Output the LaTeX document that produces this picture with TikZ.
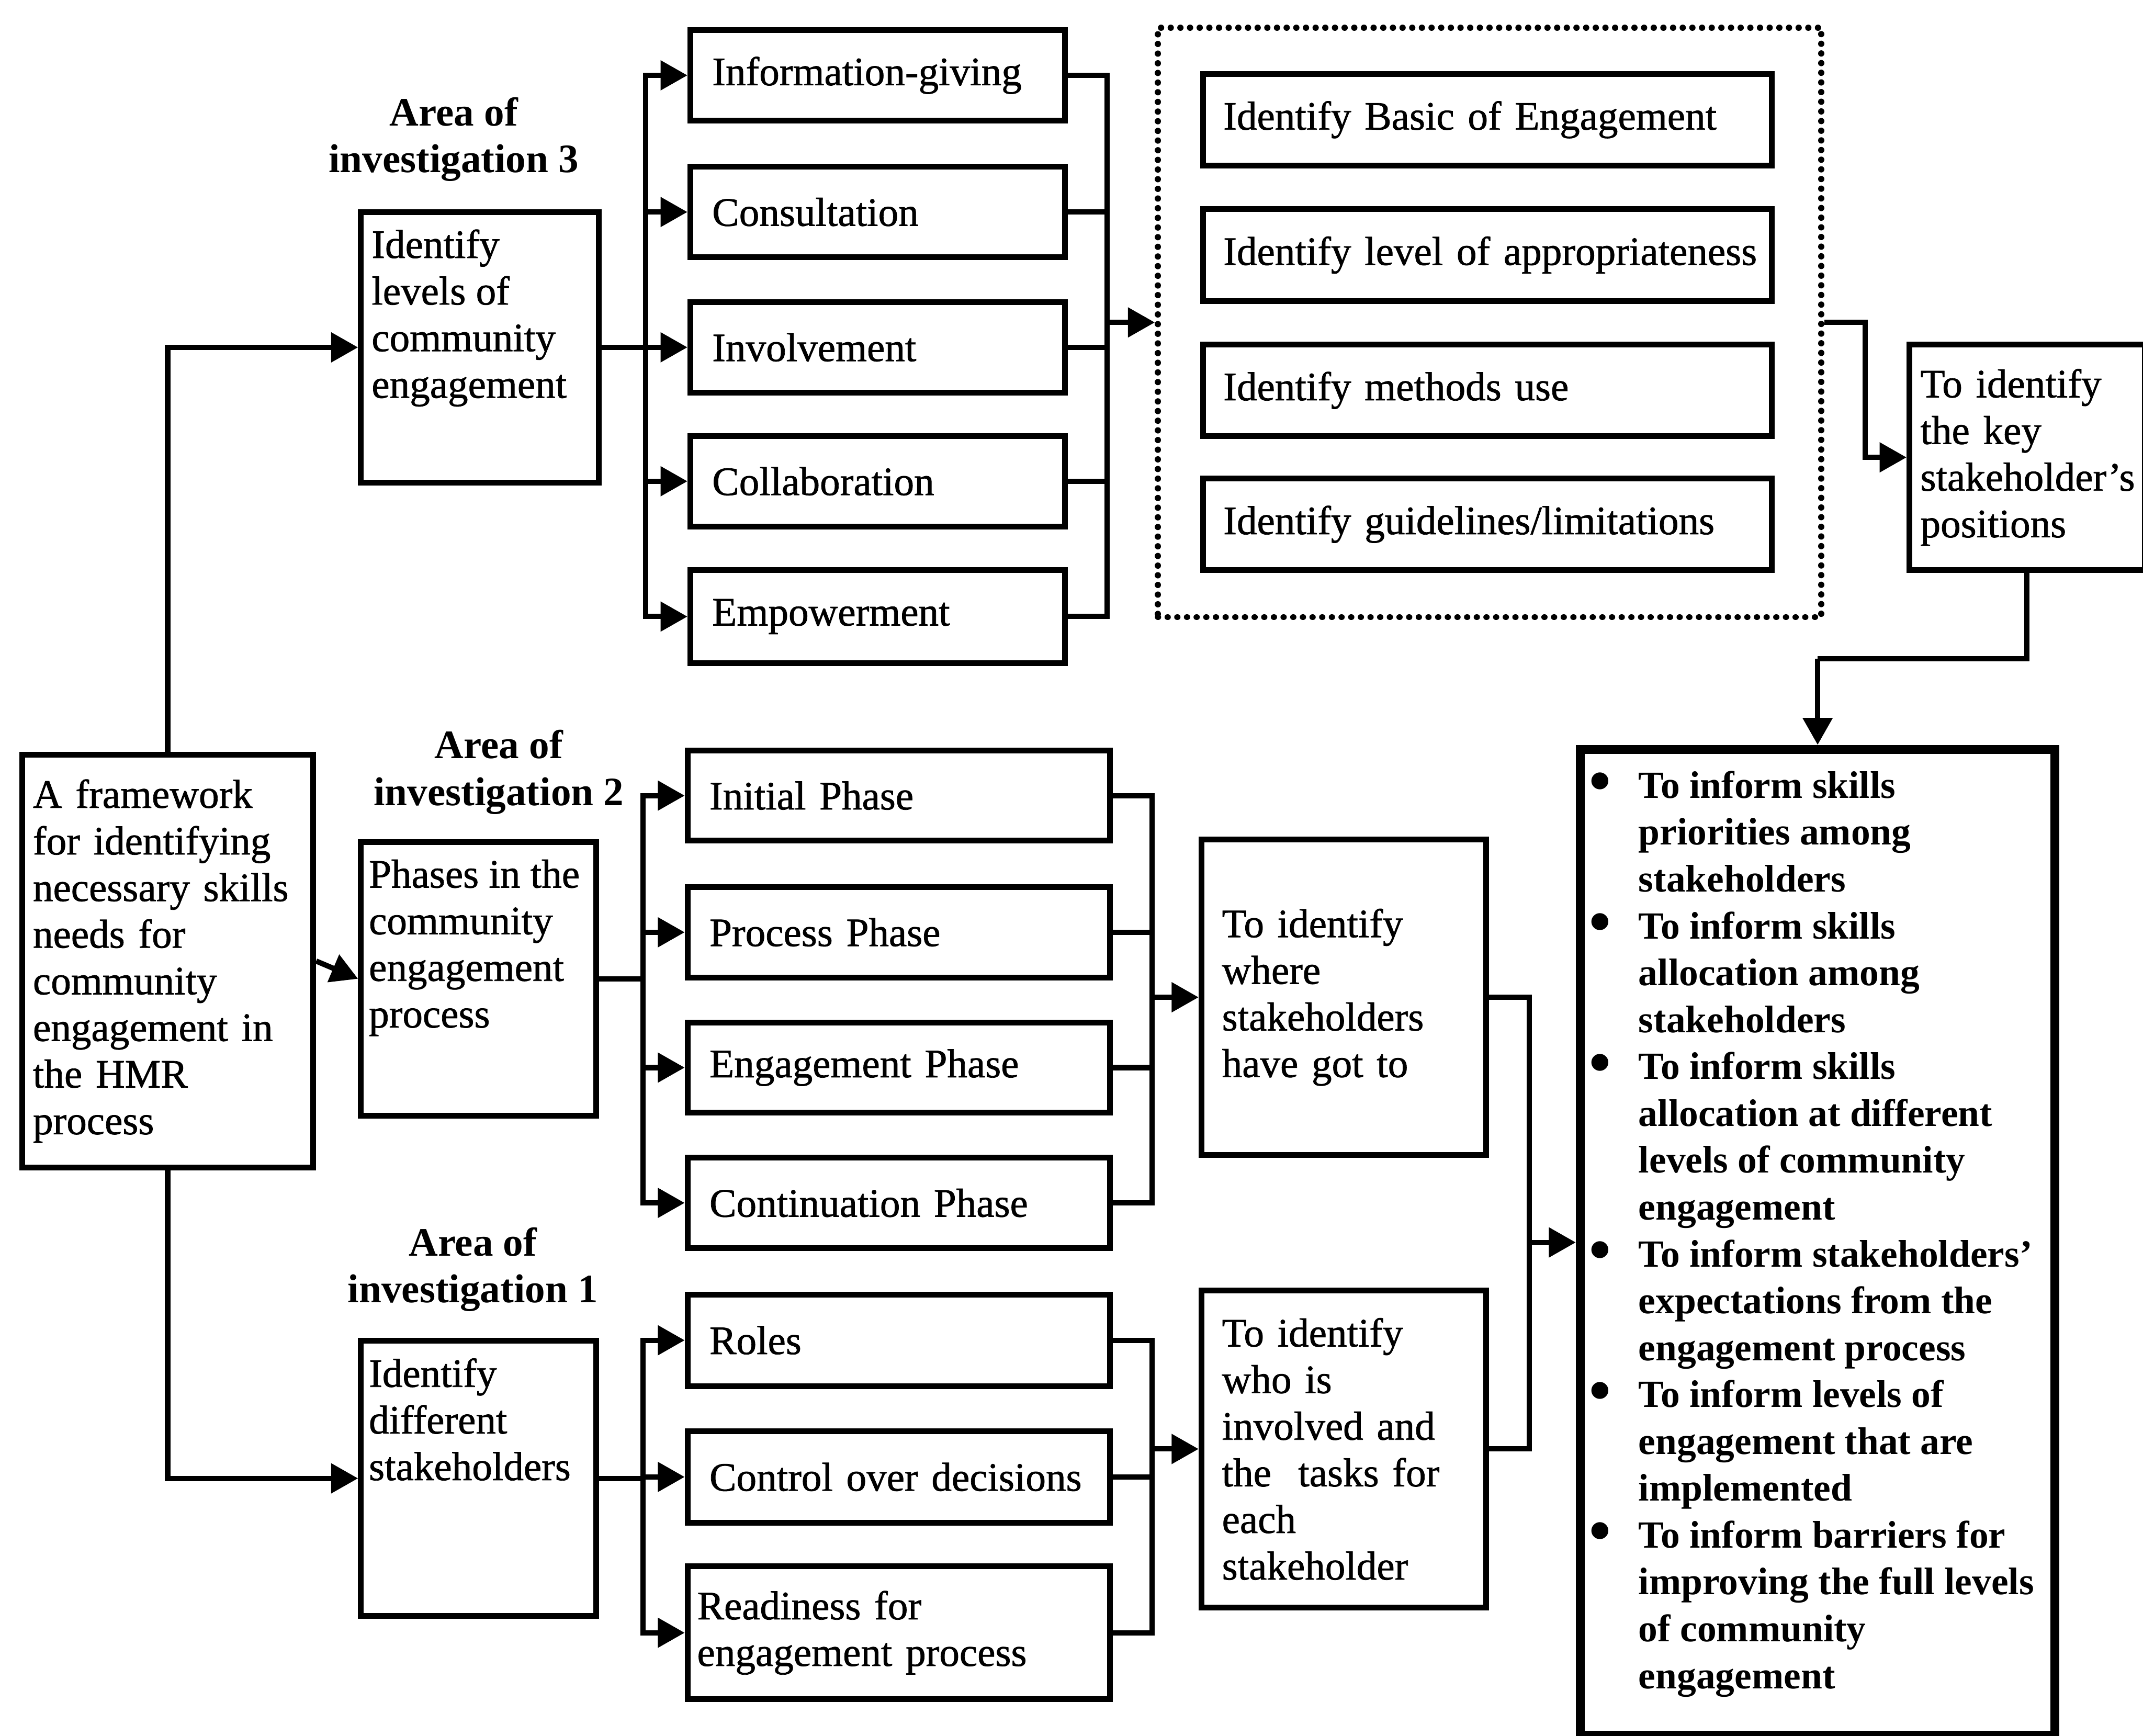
\documentclass[tikz,border=0pt]{standalone}
\usepackage{fontspec}
\setmainfont{Liberation Serif}[UprightFeatures={FakeBold=1}]
\usetikzlibrary{arrows.meta,calc}
\hyphenpenalty=10000
\exhyphenpenalty=10000
\newcommand{\regfont}{\fontsize{8.4pt}{9.7pt}\selectfont}
\newcommand{\bulfont}{\fontsize{8pt}{9.75pt}\selectfont\bfseries}
\newcommand{\bigbullet}{\raisebox{-0.8pt}{\fontsize{13pt}{0pt}\selectfont\textbullet}}

\begin{document}
\begin{tikzpicture}[x=0.01cm,y=-0.01cm,line width=1.1pt,
  every node/.style={font=\regfont},
  frame/.style={draw,line width=1.2pt,anchor=north west,inner sep=0pt,align=left},
  itemA/.style={frame,inner xsep=0.16cm,text width=2.42cm,minimum height=0.66cm},
  itemB/.style={frame,inner xsep=0.16cm,text width=2.77cm,minimum height=0.66cm},
  itemC/.style={frame,inner xsep=0.15cm,text width=3.86cm,minimum height=0.67cm},
  boxtext/.style={anchor=north west,inner sep=0pt,align=left},
  area/.style={align=center,inner sep=0pt,font=\regfont\bfseries},
  arr/.style={-{Triangle[length=5.6pt,width=6pt]}},
  line join=miter]

\useasboundingbox (0,0) rectangle (1568,1270);

% main framework box
\node[frame,inner xsep=0.08cm,text width=1.97cm,minimum height=3.02cm] (F) at (14,550)
  {A framework\\for identifying\\necessary skills\\needs for\\community\\engagement in\\the HMR\\process};

% areas of investigation
\node[area] (L3) at (332,102) {Area of\\investigation 3};
\node[area] (L2) at (365,565) {Area of\\investigation 2};
\node[area] (L1) at (346,929) {Area of\\investigation 1};

\node[frame,minimum width=1.74cm,minimum height=1.98cm] (B3) at (262,153) {};
\node[boxtext] (B3t) at (270,166) {Identify\\levels of\\community\\engagement};
\node[frame,minimum width=1.72cm,minimum height=2.00cm] (B2) at (262,614) {};
\node[boxtext] (B2t) at (268,627) {Phases in the\\community\\engagement\\process};
\node[frame,minimum width=1.72cm,minimum height=2.01cm] (B1) at (262,979) {};
\node[boxtext] (B1t) at (268,992) {Identify\\different\\stakeholders};

% levels of community engagement
\node[itemA] (I1) at (503,20)  {Information-giving};
\node[itemA] (I2) at (503,120) {Consultation};
\node[itemA] (I3) at (503,219) {Involvement};
\node[itemA] (I4) at (503,317) {Collaboration};
\node[itemA,minimum height=0.68cm] (I5) at (503,415) {Empowerment};

% dotted group
\node[frame,line width=1.3pt,line cap=round,dash pattern=on 0.01pt off 2pt,minimum width=4.85cm,minimum height=4.31cm] (D) at (845,18) {};
\node[itemC] (D1) at (878,52)  {\mbox{Identify Basic of Engagement}};
\node[itemC] (D2) at (878,151) {\mbox{Identify level of appropriateness}};
\node[itemC] (D3) at (878,250) {\mbox{Identify methods use}};
\node[itemC] (D4) at (878,348) {\mbox{Identify guidelines/limitations}};

\node[frame,inner xsep=0.08cm,text width=1.56cm,minimum height=1.65cm] (K) at (1395,250)
  {To identify\\the key\\stakeholder’s\\positions};

% phases
\node[itemB] (P1) at (501,547) {Initial Phase};
\node[itemB] (P2) at (501,647) {Process Phase};
\node[itemB] (P3) at (501,746) {Engagement Phase};
\node[itemB] (P4) at (501,845) {Continuation Phase};
\node[frame,inner xsep=0.15cm,text width=1.78cm,minimum height=2.31cm] (Wh) at (877,612)
  {To identify\\where\\stakeholders\\have got to};

% stakeholders
\node[itemB,minimum height=0.67cm] (S1) at (501,945)  {Roles};
\node[itemB,minimum height=0.67cm] (S2) at (501,1045) {Control over decisions};
\node[frame,inner xsep=0.07cm,text width=2.95cm,minimum height=0.97cm] (S3) at (501,1144)
  {Readiness for\\engagement process};
\node[frame,inner xsep=0.15cm,text width=1.78cm,minimum height=2.32cm] (Wo) at (877,942)
  {To identify\\who is\\involved and\\the\ \ tasks for\\each\\stakeholder};

% outcomes
\node[frame,line width=1.9pt,minimum width=3.47cm,minimum height=7.21cm] (R) at (1153,545) {};
\node[boxtext,font=\bulfont] (Rt) at (1161,558) {%
\begin{tabular}{@{}p{0.36cm}@{}l@{}}
\bigbullet & To inform skills\\
 & priorities among\\
 & stakeholders\\
\bigbullet & To inform skills\\
 & allocation among\\
 & stakeholders\\
\bigbullet & To inform skills\\
 & allocation at different\\
 & levels of community\\
 & engagement\\
\bigbullet & To inform stakeholders’\\
 & expectations from the\\
 & engagement process\\
\bigbullet & To inform levels of\\
 & engagement that are\\
 & implemented\\
\bigbullet & To inform barriers for\\
 & improving the full levels\\
 & of community\\
 & engagement
\end{tabular}};

% junction points
\coordinate (m3) at ($(D.west)+(-35,0)$);
\coordinate (m2) at ($(Wh.west)+(-34,0)$);
\coordinate (m1) at ($(Wo.west)+(-34,0)$);
\coordinate (mR) at ($(R.west)+(-34,0)$);
\coordinate (mK) at ($(R.north)+(0,-63)$);

% framework to the three areas
\draw[arr] (F.north) |- (B3.west);
\draw[arr] (F.east) -- (B2.west);
\draw[arr] (F.south) |- (B1.west);

% area 3
\foreach \n in {I1,I2,I3,I4,I5} {
  \draw[arr] (B3.east) -- ++(32,0) |- (\n.west);
  \draw (\n.east) -| (m3);
}
\draw[arr] (m3) -- (D.west);
\draw[arr] (D.east) -- ++(30,0) |- (K.west);
\draw (K.south) |- (mK);
\draw[arr] (mK) -- (R.north);

% area 2
\foreach \n in {P1,P2,P3,P4} {
  \draw[arr] (B2.east) -- ++(32,0) |- (\n.west);
  \draw (\n.east) -| (m2);
}
\draw[arr] (m2) -- (Wh.west);

% area 1
\foreach \n in {S1,S2,S3} {
  \draw[arr] (B1.east) -- ++(32,0) |- (\n.west);
  \draw (\n.east) -| (m1);
}
\draw[arr] (m1) -- (Wo.west);

% merge into outcomes
\draw (Wh.east) -| (mR);
\draw (Wo.east) -| (mR);
\draw[arr] (mR) -- (R.west);

\end{tikzpicture}
\end{document}
